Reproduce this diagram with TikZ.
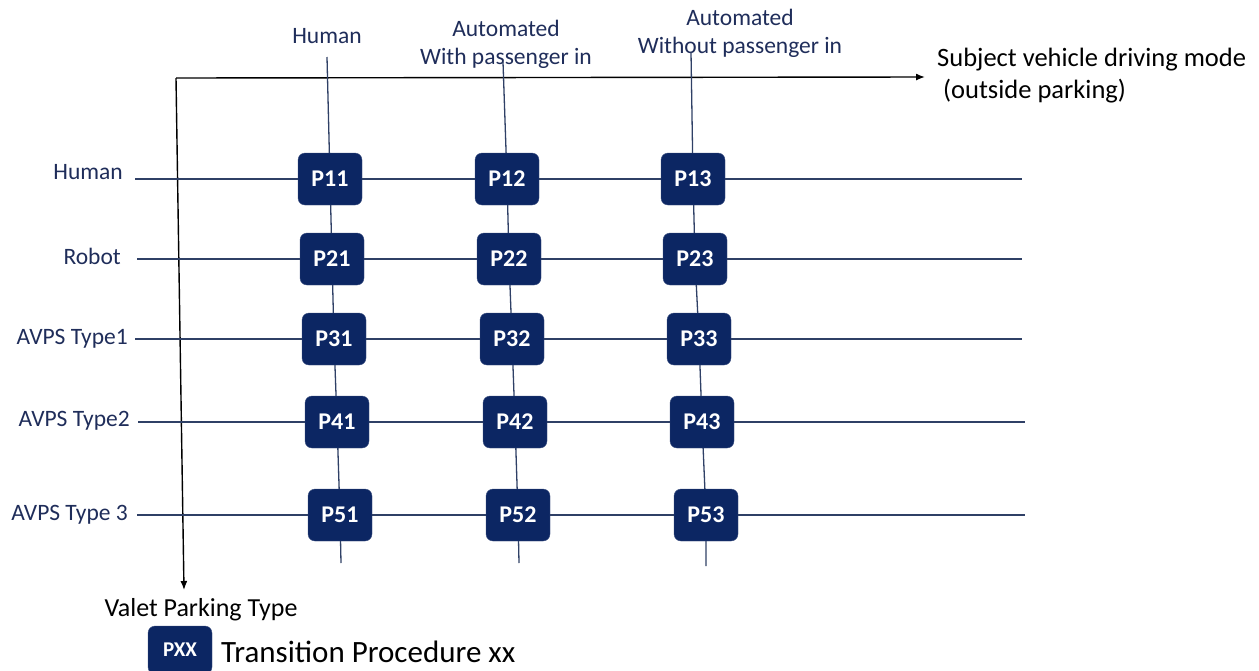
\documentclass[tikz,border=0pt]{standalone}
\usepackage{fontspec}
\setmainfont{Carlito}
\usepackage{tikz}
\usetikzlibrary{arrows.meta}

\definecolor{navy}{RGB}{12,38,99}
\definecolor{gridln}{RGB}{47,64,102}
\definecolor{lbl}{RGB}{31,45,90}

\tikzset{
  proc/.style={fill=navy,draw=navy!80,rounded corners=7pt,minimum width=64pt,minimum height=52pt,
    text=white,font=\fontsize{24}{26}\selectfont\bfseries,inner sep=0pt},
  gline/.style={draw=gridln,line width=1.3pt},
  axis/.style={draw=black,line width=1.4pt,-{Latex[length=9pt,width=7pt]}},
  lab/.style={text=lbl,font=\fontsize{23.5}{28}\selectfont,align=center,inner sep=0pt}
}

\begin{document}
\begin{tikzpicture}[x=1pt,y=-1pt]
\useasboundingbox (0,0) rectangle (1259,670);

% axes
\coordinate (o) at (176,78);
\coordinate (xend) at (925,77);
\coordinate (yend) at (184,590);
\draw[axis] (o) -- (xend);
\draw[axis] (o) -- (yend);
\node[anchor=west,align=left,font=\fontsize{26.5}{32}\selectfont,inner sep=0pt] (xlab) at (937,76)
  {Subject vehicle driving mode\\\hspace{6pt}(outside parking)};
\node[font=\fontsize{26}{30}\selectfont,inner sep=0pt] (ylab) at (201,610) {Valet Parking Type};

% column labels
\node[lab] (c1) at (327,36) {Human};
\node[lab] (c2) at (506,44) {Automated\\With passenger in};
\node[lab] (c3) at (740,33) {Automated\\Without passenger in};

% row labels
\node[lab,anchor=east] (r1) at (123,172) {Human};
\node[lab,anchor=east] (r2) at (121,256) {Robot};
\node[lab,anchor=east] (r3) at (128,339) {AVPS Type1};
\node[lab,anchor=east] (r4) at (130,421) {AVPS Type2};
\node[lab,anchor=east] (r5) at (128,515) {AVPS Type 3};

% procedures
\node[proc] (p11) at (330,179) {P11};
\node[proc] (p12) at (507,179) {P12};
\node[proc] (p13) at (693,179) {P13};
\node[proc] (p21) at (332,259) {P21};
\node[proc] (p22) at (509,259) {P22};
\node[proc] (p23) at (695,259) {P23};
\node[proc] (p31) at (334,339) {P31};
\node[proc] (p32) at (512,339) {P32};
\node[proc] (p33) at (699,339) {P33};
\node[proc] (p41) at (337,422) {P41};
\node[proc] (p42) at (515,422) {P42};
\node[proc] (p43) at (702,422) {P43};
\node[proc] (p51) at (340,515) {P51};
\node[proc] (p52) at (518,515) {P52};
\node[proc] (p53) at (706,515) {P53};

% line ends
\coordinate (t1) at (327,57);  \coordinate (b1) at (341,563);
\coordinate (t2) at (503,62);  \coordinate (b2) at (519,563);
\coordinate (t3) at (691,52);  \coordinate (b3) at (706,566);
\coordinate (s1) at (135,179); \coordinate (e1) at (1022,179);
\coordinate (s2) at (137,259); \coordinate (e2) at (1022,259);
\coordinate (s3) at (135,339); \coordinate (e3) at (1022,339);
\coordinate (s4) at (138,422); \coordinate (e4) at (1025,422);
\coordinate (s5) at (137,515); \coordinate (e5) at (1025,515);

\draw[gline] (t1) -- (p11) -- (p21) -- (p31) -- (p41) -- (p51) -- (b1);
\draw[gline] (t2) -- (p12) -- (p22) -- (p32) -- (p42) -- (p52) -- (b2);
\draw[gline] (t3) -- (p13) -- (p23) -- (p33) -- (p43) -- (p53) -- (b3);
\draw[gline] (s1) -- (p11) -- (p12) -- (p13) -- (e1);
\draw[gline] (s2) -- (p21) -- (p22) -- (p23) -- (e2);
\draw[gline] (s3) -- (p31) -- (p32) -- (p33) -- (e3);
\draw[gline] (s4) -- (p41) -- (p42) -- (p43) -- (e4);
\draw[gline] (s5) -- (p51) -- (p52) -- (p53) -- (e5);

% legend
\node[proc,minimum height=48pt,font=\fontsize{21}{23}\selectfont\bfseries] (pxx) at (180,650) {PXX};
\node[anchor=west,font=\fontsize{31}{34}\selectfont,inner sep=0pt] (pxxlab) at (221,652) {Transition Procedure xx};
\end{tikzpicture}
\end{document}
